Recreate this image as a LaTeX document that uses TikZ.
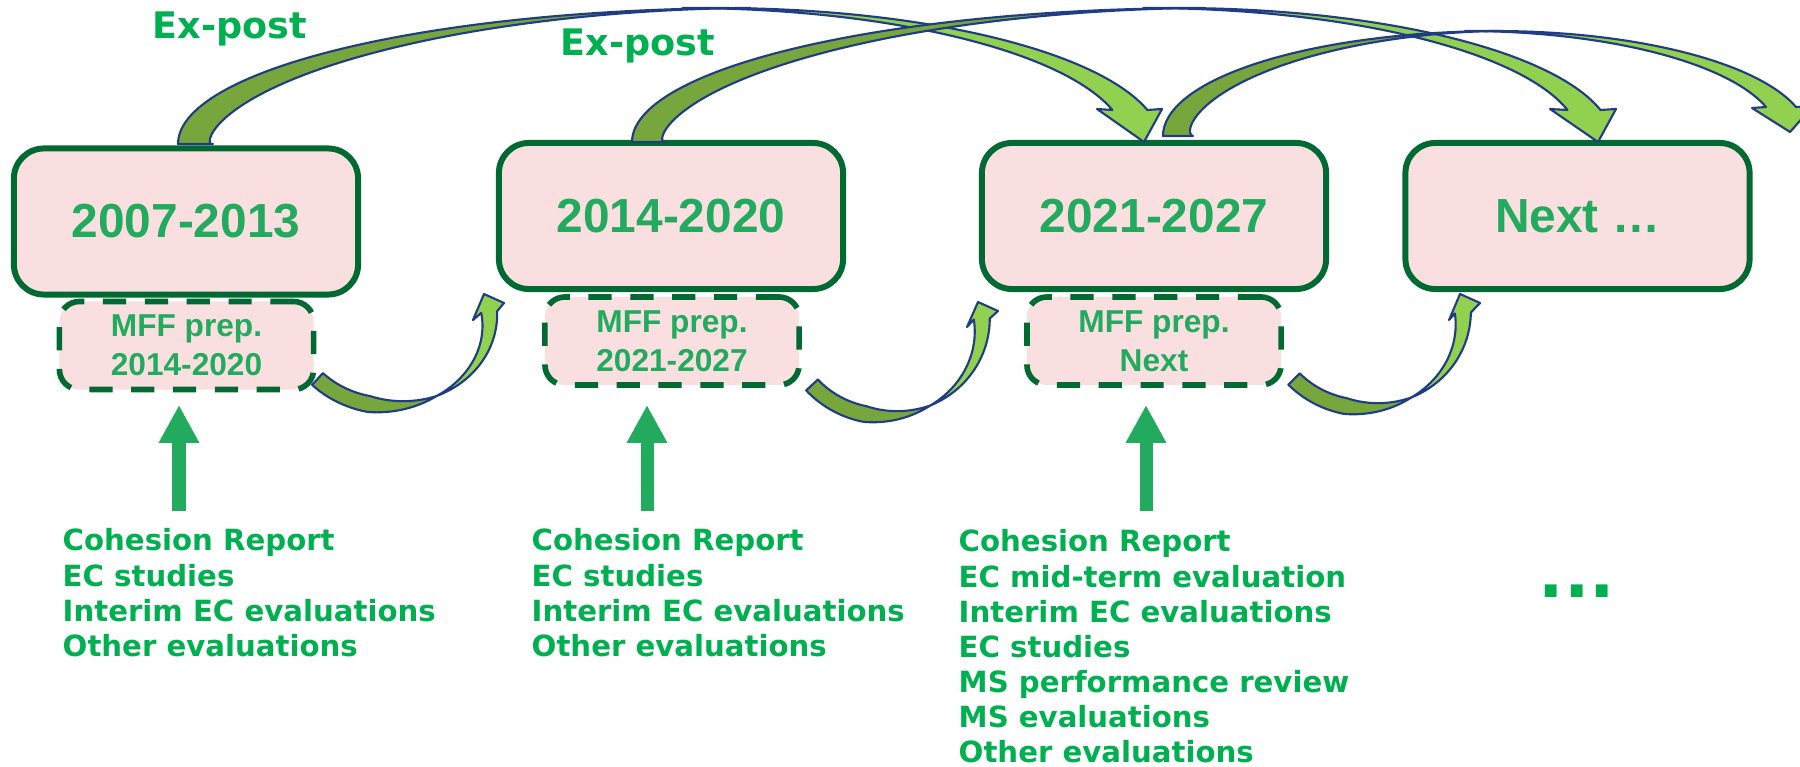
\documentclass[tikz,border=0pt]{standalone}
\usepackage{fontspec}
\usetikzlibrary{arrows.meta}
\newfontfamily\labfont{Liberation Sans}
\newfontfamily\lstfont{DejaVu Sans}
\definecolor{boxpink}{HTML}{FADFE0}
\definecolor{boxgreen}{HTML}{006A32}
\definecolor{labgreen}{HTML}{22AA5E}
\definecolor{listgreen}{HTML}{00B050}
\definecolor{backgreen}{HTML}{77A63D}
\definecolor{frontgreen}{HTML}{92D050}
\definecolor{navy}{HTML}{1F3C85}
% #1 px(back), #2 by, #3 b, #4 aLo, #5 aR, #6 h, #7 neck angle, #8 head points, #9 px(front)
\newcommand{\exarc}[9]{%
  \filldraw[backband] plot[domain=180:270,samples=60,variable=\t] ({#1+#4*cos(\t)},{#2+#3*sin(\t)})
    -- plot[domain=270:180,samples=60,variable=\t]
      ({#1+#4*cos(\t)-2*#6*tp(\t)*nx(\t,#4/1000,#3/1000)},{#2+#3*sin(\t)-2*#6*tp(\t)*ny(\t,#4/1000,#3/1000)}) -- cycle;
  \filldraw[frontband] plot[domain=270:#7,samples=60,variable=\t] ({#9+#6+#5*cos(\t)},{#2+#3*sin(\t)})
    -- #8 -- plot[domain=#7:270,samples=60,variable=\t] ({#9-#6+#5*cos(\t)},{#2+#3*sin(\t)}) -- cycle;
}
\newcommand{\uarc}[9]{%
  \filldraw[backband] plot[domain=#5:62,samples=40,variable=\t]
     ({#1+#3*cos(\t)+#7*wd(\t)*nx(\t,#3/100,#4/100)},{#2+#4*sin(\t)+#7*wd(\t)*ny(\t,#3/100,#4/100)})
    -- plot[domain=62:#5,samples=40,variable=\t]
     ({#1+#3*cos(\t)-#7*wd(\t)*nx(\t,#3/100,#4/100)},{#2+#4*sin(\t)-#7*wd(\t)*ny(\t,#3/100,#4/100)}) -- cycle;
  \filldraw[frontband] plot[domain=62:#6,samples=40,variable=\t]
     ({#1+#3*cos(\t)+#7*wl(\t,#9)*nx(\t,#3/100,#4/100)},{#2+#4*sin(\t)+#7*wl(\t,#9)*ny(\t,#3/100,#4/100)})
    -- #8 -- plot[domain=#6:62,samples=40,variable=\t]
     ({#1+#3*cos(\t)-#7*wl(\t,#9)*nx(\t,#3/100,#4/100)},{#2+#4*sin(\t)-#7*wl(\t,#9)*ny(\t,#3/100,#4/100)}) -- cycle;
}
\begin{document}
\begin{tikzpicture}[x=0.01cm,y=-0.01cm,
  declare function={
    nrm(\t,\a,\b)=sqrt((\b*cos(\t))^2+(\a*sin(\t))^2);
    nx(\t,\a,\b)=\b*cos(\t)/nrm(\t,\a,\b);
    ny(\t,\a,\b)=\a*sin(\t)/nrm(\t,\a,\b);
    tp(\t)=((270-\t)/90)*sqrt((270-\t)/90);
    wd(\t)=min(1,(\t-62)/40);
    wl(\t,\d)=(62-\t)/\d;
  },
  backband/.style={fill=backgreen,draw=navy,line width=0.6pt,line join=round},
  frontband/.style={fill=frontgreen,draw=navy,line width=0.6pt,line join=round},
  bigbox/.style={draw=boxgreen,line width=1.7pt,fill=boxpink,rounded corners=0.3cm,
    minimum width=3.44cm,minimum height=1.46cm,inner sep=0pt,text=labgreen,
    font=\labfont\bfseries\fontsize{13.6}{16}\selectfont},
  prepbox/.style={draw=boxgreen,line width=1.6pt,dash pattern=on 6.6pt off 5.3pt,fill=boxpink,
    rounded corners=0.2cm,minimum width=2.54cm,minimum height=0.88cm,inner sep=0pt,align=center,
    text=labgreen,font=\labfont\bfseries\fontsize{9}{11.1}\selectfont},
  listtext/.style={anchor=north west,inner sep=0pt,align=left,text=listgreen,
    font=\lstfont\bfseries\fontsize{8.3}{10}\selectfont},
  expost/.style={anchor=base west,inner sep=0pt,text=listgreen,
    font=\lstfont\bfseries\fontsize{10.4}{12}\selectfont},
  uparrow/.style={draw=labgreen,line width=3.7pt,-{Triangle[width=10.8pt,length=10.8pt]}}
]
\useasboundingbox (0,0) rectangle (1800,767);

% dashed preparation boxes
\node[prepbox] (p1) at (186.5,345.5) {MFF prep.\\2014-2020};
\node[prepbox] (p2) at (672,341) {MFF prep.\\2021-2027};
\node[prepbox] (p3) at (1154,341) {MFF prep.\\Next};

% period boxes
\node[bigbox] (b1) at (186,221.5) {2007-2013};
\node[bigbox] (b2) at (671,216) {2014-2020};
\node[bigbox] (b3) at (1154,216) {2021-2027};
\node[bigbox] (b4) at (1577.5,216) {Next …};

% ex-post arcs
\exarc{750}{144}{136}{572}{444}{17.5}{345.52}{(1162,109) -- (1144,142) -- (1097,109)}{700}
\exarc{1204}{142}{134}{572}{436.6}{16.5}{346.18}{(1616,109) -- (1598,142) -- (1550,109)}{1160}
\exarc{1500}{136}{105}{337}{313.2}{15}{343.97}{(1813,106) -- (1790,132) -- (1752,108)}{1480}

% small curved arrows
\uarc{390}{320}{99.6}{86}{136.7}{-5.3}{8}{(504,303) -- (484,294) -- (473,320)}{67.3}
\uarc{885}{325}{97}{91}{138.8}{-3.8}{8}{(998,311) -- (978,302) -- (967,327)}{65.8}
\uarc{1365.6}{318}{97.4}{90}{137.3}{-3.2}{8}{(1480,303) -- (1460,294) -- (1449,320)}{65.2}

% labels
\node[expost] (e1) at (152,38.5) {Ex-post};
\node[expost] (e2) at (560,55.5) {Ex-post};

% lists
\node[listtext] (l1) at (62,528) {Cohesion Report\\EC studies\\Interim EC evaluations\\Other evaluations};
\node[listtext] (l2) at (531,528) {Cohesion Report\\EC studies\\Interim EC evaluations\\Other evaluations};
\node[listtext] (l3) at (958,529) {Cohesion Report\\EC mid-term evaluation\\Interim EC evaluations\\EC studies\\MS performance review\\MS evaluations\\Other evaluations};
\node[inner sep=0pt,text=listgreen,font=\lstfont\bfseries\fontsize{19}{22}\selectfont] (dots) at (1577,591) {...};

% upward arrows
\coordinate (a1s) at (179,511); \coordinate (a1e) at (179,405);
\coordinate (a2s) at (647,511); \coordinate (a2e) at (647,405);
\coordinate (a3s) at (1146,511); \coordinate (a3e) at (1146,405);
\draw[uparrow] (a1s) -- (a1e);
\draw[uparrow] (a2s) -- (a2e);
\draw[uparrow] (a3s) -- (a3e);
\end{tikzpicture}
\end{document}
